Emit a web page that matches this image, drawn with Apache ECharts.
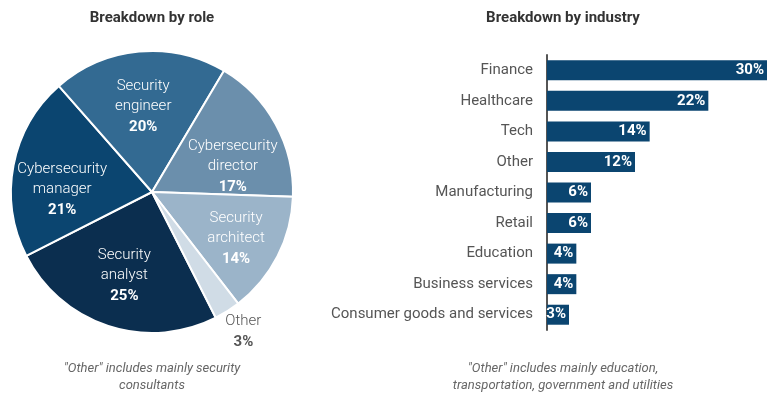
<!DOCTYPE html>
<html>
<head>
<meta charset="utf-8">
<script src="https://cdn.jsdelivr.net/npm/echarts@6/dist/echarts.min.js"></script>
<style>
  html, body { margin: 0; padding: 0; background: #fff; }
  #chart { width: 769px; height: 394px; }
</style>
</head>
<body>
<div id="chart"></div>
<script>
// Role breakdown (pie)
const roleNames = ['Security\nanalyst', 'Cybersecurity\nmanager', 'Security\nengineer', 'Cybersecurity\ndirector', 'Security\narchitect', 'Other'];
const roleValues = [25, 21, 20, 17, 14, 3];
const roleColors = ['#0b2e4f', '#0b4570', '#336a92', '#6b8fac', '#9bb4c9', '#d0dce6'];

// Industry breakdown (bars), top to bottom
const industryNames = ['Finance', 'Healthcare', 'Tech', 'Other', 'Manufacturing', 'Retail', 'Education', 'Business services', 'Consumer goods and services'];
const industryValues = [30, 22, 14, 12, 6, 6, 4, 4, 3];

const chart = echarts.init(document.getElementById('chart'));
const font = 'Roboto, "Noto Sans", sans-serif';
const pieCenter = [152, 192];
const otherIdx = roleNames.length - 1;

// label placement: radial push-out factor plus a small nudge per slice
const labelPush = [1.3, 1.3, 1.3, 1.3, 1.3, 2.25];
const labelNudge = [[2, -7], [4, 16], [0, 10], [-3, 21], [-1, 4], [3, 0]];

const pieData = roleNames.map((n, i) => {
  const item = { name: n, value: roleValues[i], itemStyle: { color: roleColors[i] } };
  if (i === otherIdx) {
    item.label = {
      color: '#555',
      rich: { b: { fontWeight: 'bold', fontSize: 15, color: '#555', lineHeight: 21, fontFamily: font } }
    };
  }
  return item;
});

chart.setOption({
  animation: false,
  textStyle: { fontFamily: font },
  title: [
    { text: 'Breakdown by role', left: 152, top: 11, textAlign: 'center', padding: 0,
      textStyle: { fontSize: 15, fontWeight: 'bold', color: '#333', fontFamily: font } },
    { text: 'Breakdown by industry', left: 563, top: 11, textAlign: 'center', padding: 0,
      textStyle: { fontSize: 15, fontWeight: 'bold', color: '#333', fontFamily: font } },
    { text: '"Other" includes mainly security\nconsultants', left: 152, top: 360, textAlign: 'center', padding: 0,
      textStyle: { fontSize: 13, fontStyle: 'italic', fontWeight: 'normal', color: '#666', lineHeight: 17, fontFamily: font } },
    { text: '"Other" includes mainly education,\ntransportation, government and utilities', left: 563, top: 360, textAlign: 'center', padding: 0,
      textStyle: { fontSize: 13, fontStyle: 'italic', fontWeight: 'normal', color: '#666', lineHeight: 17, fontFamily: font } }
  ],
  grid: { left: 547, right: 2, top: 55, height: 275, containLabel: false },
  xAxis: { type: 'value', min: 0, max: 30, show: false },
  yAxis: {
    type: 'category', inverse: true, data: industryNames,
    axisLine: { show: true, lineStyle: { color: '#555', width: 2 } },
    axisTick: { show: false },
    axisLabel: { color: '#555', fontSize: 15, margin: 14, fontFamily: font }
  },
  series: [
    {
      type: 'pie',
      center: pieCenter,
      radius: [0, 141],
      startAngle: -63.1,
      clockwise: true,
      data: pieData,
      itemStyle: { borderColor: '#fff', borderWidth: 2 },
      label: {
        position: 'inside', color: '#fff', fontSize: 15, fontWeight: 300, lineHeight: 20, fontFamily: font,
        formatter: p => p.name + '\n{b|' + p.value + '%}',
        rich: { b: { fontWeight: 'bold', fontSize: 15, color: '#fff', lineHeight: 22, fontFamily: font } }
      },
      labelLine: { show: false },
      labelLayout: function (params) {
        const r = params.labelRect;
        const i = params.dataIndex;
        const lx = r.x + r.width / 2, ly = r.y + r.height / 2;
        const k = labelPush[i];
        return {
          x: pieCenter[0] + (lx - pieCenter[0]) * k + labelNudge[i][0],
          y: pieCenter[1] + (ly - pieCenter[1]) * k + labelNudge[i][1],
          align: 'center', verticalAlign: 'middle', hideOverlap: false
        };
      }
    },
    {
      type: 'bar',
      data: industryValues,
      barWidth: 20,
      itemStyle: { color: '#0b4570' },
      label: {
        show: true, position: 'insideRight', color: '#fff', fontWeight: 'bold', fontSize: 15,
        offset: [2, 0], fontFamily: font, formatter: p => p.value + '%'
      }
    }
  ]
});
</script>
</body>
</html>
